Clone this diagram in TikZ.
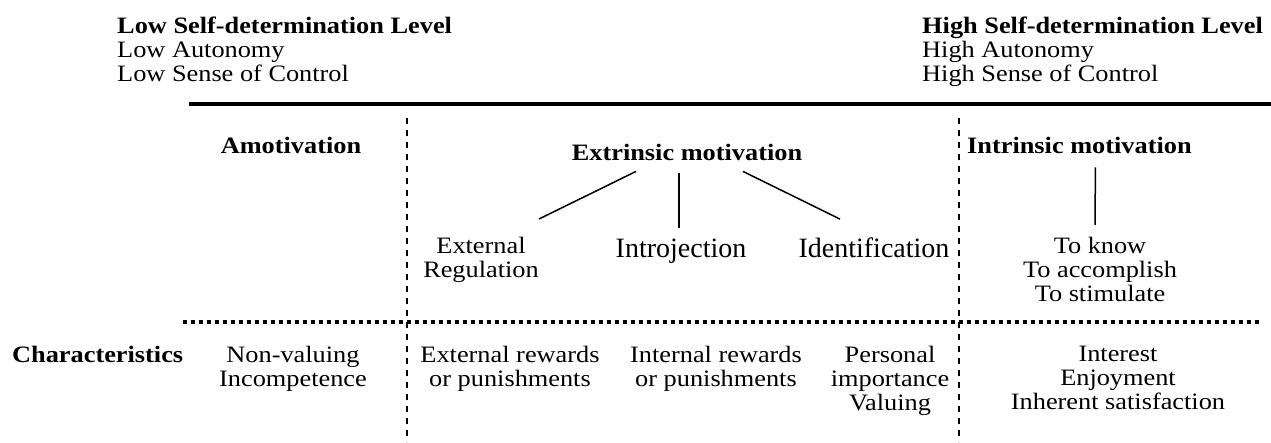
\documentclass[tikz,border=0pt]{standalone}
\usepackage{fontspec}
\setmainfont{Liberation Serif}[FakeStretch=1.12]
\newfontfamily\plainfont{Liberation Serif}
\usetikzlibrary{positioning}

\begin{document}
\begin{tikzpicture}[x=1pt, y=-1pt,
  every node/.style={font=\fontsize{23.5}{24}\selectfont, inner sep=0pt},
  head/.style={anchor=north west, align=left},
  title/.style={anchor=base, font=\fontsize{23.5}{24}\selectfont\bfseries},
  col/.style={anchor=north, align=center},
  kind/.style={anchor=base, font=\plainfont\fontsize{28}{30}\selectfont},
  branch/.style={line width=1.5pt},
  rule/.style={line width=3.3pt},
  divider/.style={line width=1.6pt, dash pattern=on 6pt off 6pt},
  dotline/.style={line width=3.5pt, dash pattern=on 3.5pt off 4.5pt}]
\useasboundingbox (0,0) rectangle (1271,442);

% scale of self-determination
\node[head] (low) at (117,17) {\textbf{Low Self-determination Level}\\Low Autonomy\\Low Sense of Control};
\node[head] (high) at (922,17) {\textbf{High Self-determination Level}\\High Autonomy\\High Sense of Control};
\draw[rule] (189,104) -- (1271,104);

% column borders
\draw[divider] (407,118) -- (407,442);
\draw[divider] (959,118) -- (959,442);
\draw[dotline] (183,322) -- (1262,322);

% motivation types
\node[title] (amot) at (291,153) {Amotivation};
\node[title] (ext) at (687,160) {Extrinsic motivation};
\node[title, anchor=base west] (intr) at (967,153) {Intrinsic motivation};

\node[col] (extreg) at (481,237) {External\\Regulation};
\node[kind] (intro) at (681,257) {Introjection};
\node[kind] (ident) at (874,257) {Identification};
\node[col] (know) at (1100,237) {To know\\To accomplish\\To stimulate};

\draw[branch] ([xshift=-51pt,yshift=-11pt]ext.south) -- ([xshift=58pt,yshift=18pt]extreg.north);
\draw[branch] ([xshift=-8pt,yshift=-13pt]ext.south) -- ([xshift=-2pt,yshift=10pt]intro.north);
\draw[branch] ([xshift=56pt,yshift=-11pt]ext.south) -- ([xshift=-34pt,yshift=18pt]ident.north);
\draw[branch] ([xshift=16pt,yshift=-14pt]intr.south) -- ([xshift=-5pt,yshift=12pt]know.north);

% characteristics row
\node[title, anchor=base west] (char) at (12,362) {Characteristics};
\node[col] (c1) at (293,346) {Non-valuing\\Incompetence};
\node[col] (c2) at (510,346) {External rewards\\or punishments};
\node[col] (c3) at (716,346) {Internal rewards\\or punishments};
\node[col] (c4) at (890,346) {Personal\\importance\\Valuing};
\node[col] (c5) at (1118,346) {Interest\\Enjoyment\\Inherent satisfaction};
\end{tikzpicture}
\end{document}
